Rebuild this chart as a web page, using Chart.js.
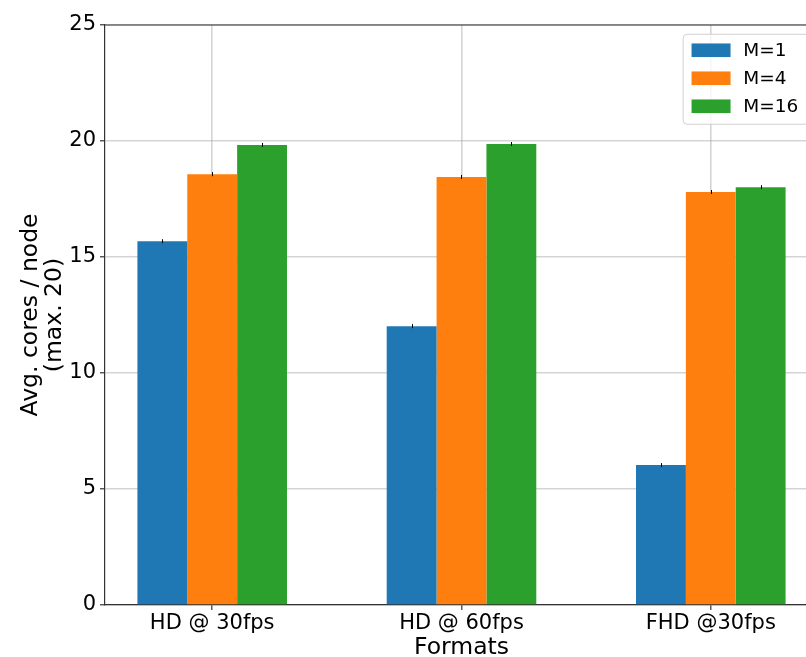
<!DOCTYPE html>
<html>
<head>
<meta charset="utf-8">
<script src="https://cdn.jsdelivr.net/npm/chart.js@4.4.1/dist/chart.umd.min.js"></script>
<style>
  html, body { margin: 0; padding: 0; overflow: hidden; background: #fff; }
  #chart { position: absolute; left: 0; top: 0; }
</style>
</head>
<body>
<canvas id="chart" width="830" height="657"></canvas>
<script>
// ===== DATA =====
const categories = ['HD @ 30fps', 'HD @ 60fps', 'FHD @30fps'];
const seriesLabels = ['M=1', 'M=4', 'M=16'];
const valuesM1 = [15.68, 12.02, 6.03];
const valuesM4 = [18.57, 18.45, 17.80];
const valuesM16 = [19.83, 19.87, 18.01];
const yTicks = [0, 5, 10, 15, 20, 25];
const xTitle = 'Formats';
const yTitle = ['Avg. cores / node', '(max. 20)'];

const colors = ['#1f77b4', '#ff7f0e', '#2ca02c'];
const FONT = "'DejaVu Sans', sans-serif";
const gridColor = 'rgba(160,160,160,0.45)';
const spineColor = '#333';

const toPoints = vals => vals.map((v, i) => ({ x: i, y: v }));

// frame, tiny error caps, axis titles and legend box drawn on top
const extras = {
  id: 'extras',
  afterDraw(chart) {
    const { ctx, chartArea: a } = chart;
    ctx.save();

    // error caps
    ctx.strokeStyle = '#000';
    ctx.lineWidth = 1;
    chart.data.datasets.forEach((ds, di) => {
      chart.getDatasetMeta(di).data.forEach(bar => {
        ctx.beginPath();
        ctx.moveTo(Math.round(bar.x) + 0.5, bar.y - 2);
        ctx.lineTo(Math.round(bar.x) + 0.5, bar.y + 2);
        ctx.stroke();
      });
    });

    // top / right spines
    ctx.strokeStyle = spineColor;
    ctx.lineWidth = 1.2;
    ctx.beginPath();
    ctx.moveTo(a.left, a.top);
    ctx.lineTo(a.right, a.top);
    ctx.lineTo(a.right, a.bottom);
    ctx.stroke();

    // axis titles
    ctx.fillStyle = '#000';
    ctx.font = `23.5px ${FONT}`;
    ctx.textAlign = 'center';
    ctx.textBaseline = 'alphabetic';
    ctx.fillText(xTitle, (a.left + a.right) / 2, 654);

    ctx.save();
    ctx.translate(0, (a.top + a.bottom) / 2);
    ctx.rotate(-Math.PI / 2);
    ctx.fillText(yTitle[0], 0, 36.5);
    ctx.fillText(yTitle[1], 0, 61);
    ctx.restore();

    // legend
    const fs = 18.5;
    ctx.font = `${fs}px ${FONT}`;
    const textW = Math.max(...seriesLabels.map(s => ctx.measureText(s).width));
    const boxW = 0.4 * fs * 2 + 2 * fs + 0.8 * fs + textW + 4;
    const boxR = a.right - 0.5 * fs;
    const boxL = boxR - boxW;
    const boxT = a.top + 0.5 * fs;
    const rowPitch = 28;
    const row0 = boxT + 16;
    const boxB = row0 + rowPitch * 2 + 18;
    ctx.beginPath();
    ctx.roundRect(boxL, boxT, boxW, boxB - boxT, 4);
    ctx.fillStyle = 'rgba(255,255,255,0.8)';
    ctx.fill();
    ctx.strokeStyle = '#d0d0d0';
    ctx.lineWidth = 1;
    ctx.stroke();
    ctx.textAlign = 'left';
    ctx.textBaseline = 'middle';
    seriesLabels.forEach((lab, i) => {
      const cy = row0 + i * rowPitch;
      ctx.fillStyle = colors[i];
      ctx.fillRect(boxL + 0.4 * fs + 1, cy - 6.8, 2 * fs + 2, 13.6);
      ctx.fillStyle = '#000';
      ctx.fillText(lab, boxL + 0.4 * fs + 2 * fs + 0.8 * fs + 1, cy + 1);
    });

    ctx.restore();
  }
};

new Chart(document.getElementById('chart'), {
  type: 'bar',
  data: {
    datasets: [
      { label: seriesLabels[0], data: toPoints(valuesM1), backgroundColor: colors[0] },
      { label: seriesLabels[1], data: toPoints(valuesM4), backgroundColor: colors[1] },
      { label: seriesLabels[2], data: toPoints(valuesM16), backgroundColor: colors[2] }
    ]
  },
  options: {
    responsive: false,
    animation: false,
    events: [],
    layout: { padding: { left: 0, top: 25, right: 12, bottom: 0 } },
    datasets: {
      bar: { categoryPercentage: 0.6, barPercentage: 1.0, borderWidth: 0 }
    },
    plugins: {
      legend: { display: false },
      tooltip: { enabled: false }
    },
    scales: {
      x: {
        type: 'linear',
        min: -0.43,
        max: 2.43,
        offset: false,
        z: 1,
        afterFit: s => { s.height = 52; },
        afterBuildTicks: s => { s.ticks = categories.map((_, i) => ({ value: i })); },
        grid: {
          offset: false,
          color: gridColor,
          lineWidth: 1.6,
          tickColor: spineColor,
          tickLength: 5,
          tickWidth: 1.2
        },
        border: { color: spineColor, width: 1.2 },
        ticks: {
          font: { family: FONT, size: 21 },
          color: '#000',
          padding: 1,
          maxRotation: 0,
          autoSkip: false,
          callback: v => categories[v]
        }
      },
      y: {
        min: 0,
        max: 25,
        z: 1,
        afterFit: s => { s.width = 105; },
        afterBuildTicks: s => { s.ticks = yTicks.map(v => ({ value: v })); },
        grid: {
          color: gridColor,
          lineWidth: 1.6,
          tickColor: spineColor,
          tickLength: 5,
          tickWidth: 1.2
        },
        border: { color: spineColor, width: 1.2 },
        ticks: {
          font: { family: FONT, size: 21 },
          color: '#000',
          padding: 4
        }
      }
    }
  },
  plugins: [extras]
});
</script>
</body>
</html>
